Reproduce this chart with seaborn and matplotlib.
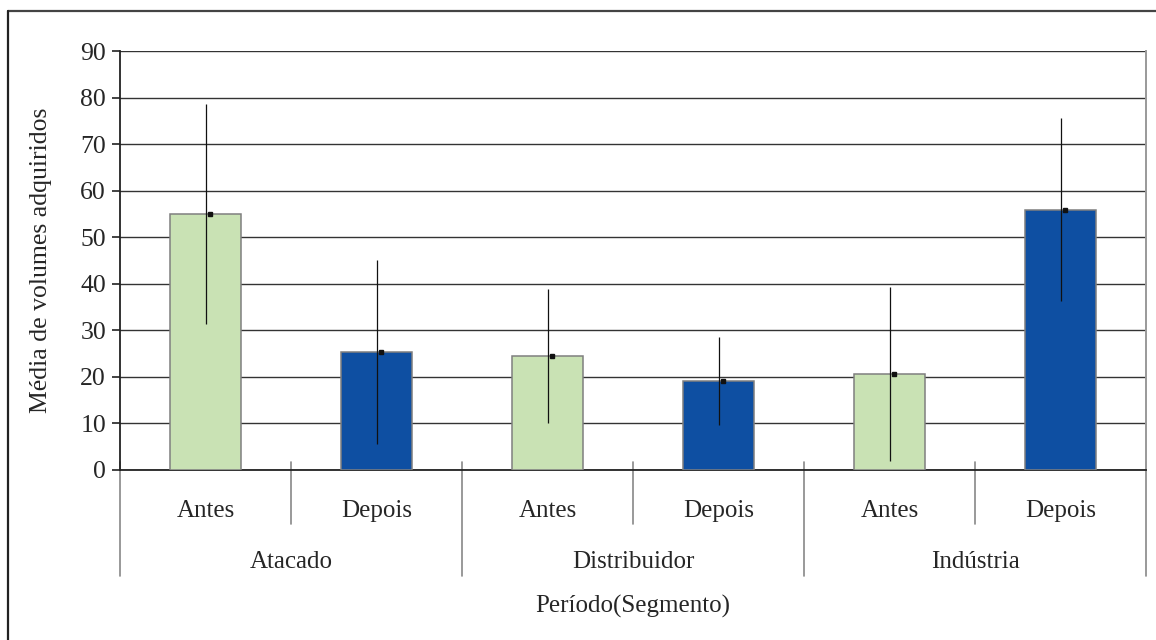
import pandas as pd
import numpy as np
import matplotlib
matplotlib.use("Agg")
import matplotlib.pyplot as plt
import matplotlib.transforms as mtransforms
from matplotlib.lines import Line2D
import seaborn as sns

# data
segmentos = ['Atacado', 'Distribuidor', 'Indústria']
periodos = ['Antes', 'Depois']
medias = [55.0, 25.4, 24.5, 19.1, 20.6, 55.9]
desvios = [23.6, 19.8, 14.3, 9.5, 18.7, 19.7]
yticks = [0, 10, 20, 30, 40, 50, 60, 70, 80, 90]

cores = {'Antes': '#C9E2B4', 'Depois': '#0E4FA2'}

df = pd.DataFrame({
    'Segmento': np.repeat(segmentos, 2),
    'Periodo': periodos * 3,
    'Media': medias,
    'Desvio': desvios,
})
df['Chave'] = df['Segmento'] + '-' + df['Periodo']

sns.set_style("white")
plt.rcParams['font.family'] = ['Liberation Serif', 'DejaVu Serif']

fig = plt.figure(figsize=(11.56, 6.4), dpi=100)
ax = fig.add_axes([120/1156, 1-470/640, 1026/1156, 419/640])

sns.barplot(data=df, x='Chave', y='Media', hue='Periodo', palette=cores,
            dodge=False, width=0.41, edgecolor='#7f7f7f', linewidth=1.1,
            saturation=1, legend=False, errorbar=None, ax=ax, zorder=3)

pos = np.arange(len(df))
ax.errorbar(pos, df['Media'], yerr=df['Desvio'], fmt='none', ecolor='#111111',
            elinewidth=0.9, capsize=0, zorder=4)
ax.plot(pos + 0.025, df['Media'], linestyle='none', marker='s', markersize=2.6,
        color='#111111', zorder=5)

ax.set_ylim(0, 90)
ax.set_xlim(-0.5, 5.5)
ax.set_yticks(yticks)
ax.tick_params(axis='y', labelsize=18.5, length=6, width=1.2, color='#222222', pad=4, left=True)
ax.grid(axis='y', color='#333333', linewidth=1.0, zorder=0)
ax.set_axisbelow(True)

ax.set_xticks(pos)
ax.set_xticklabels([])
ax.tick_params(axis='x', length=0)

ax.set_xlabel('')
ax.set_ylabel('Média de volumes adquiridos', fontsize=18.5)
ax.yaxis.set_label_coords(-0.066, 0.5)

for s in ['left', 'bottom']:
    ax.spines[s].set_color('#222222')
    ax.spines[s].set_linewidth(1.3)
ax.spines['right'].set_color('#999999')
ax.spines['right'].set_linewidth(1.4)
ax.spines['top'].set_visible(False)

# hierarchical category axis
trans = mtransforms.blended_transform_factory(ax.transData, ax.transAxes)
for x in [-0.5, 1.5, 3.5, 5.5]:
    ax.add_line(Line2D([x, x], [0.019, -0.253], transform=trans, color='#888888',
                       linewidth=1.2, clip_on=False))
for x in [0.5, 2.5, 4.5]:
    ax.add_line(Line2D([x, x], [0.019, -0.129], transform=trans, color='#888888',
                       linewidth=1.2, clip_on=False))
for p, per in zip(pos, df['Periodo']):
    ax.text(p, -0.112, per, transform=trans, ha='center', va='baseline', fontsize=18)
for i, seg in enumerate(segmentos):
    ax.text(2*i + 0.5, -0.234, seg, transform=trans, ha='center', va='baseline', fontsize=18)

ax.text(0.5, -0.341, 'Período(Segmento)', transform=ax.transAxes, ha='center',
        va='baseline', fontsize=18)

# outer frame (top and left only)
fig.add_artist(Line2D([8/1156, 1], [1-11/640, 1-11/640], transform=fig.transFigure,
                      color='#444444', linewidth=1.6))
fig.add_artist(Line2D([8/1156, 8/1156], [0, 1-11/640], transform=fig.transFigure,
                      color='#222222', linewidth=1.6))

fig.savefig('out.png', dpi=100)
